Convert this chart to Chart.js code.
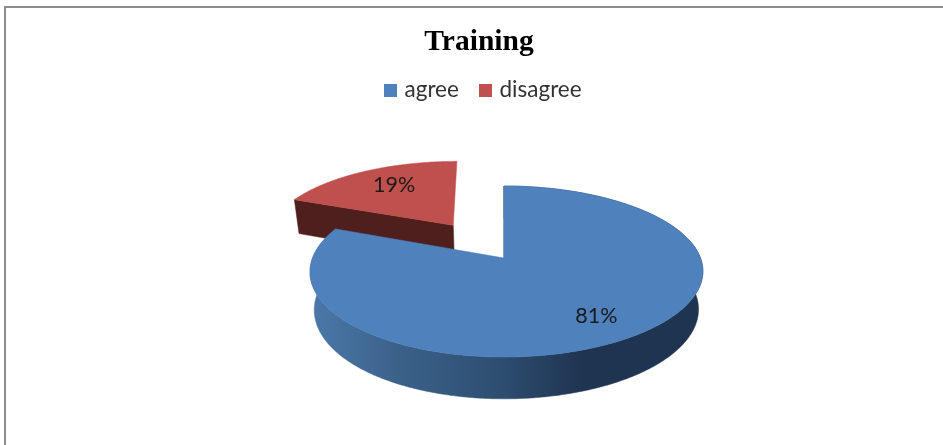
<!DOCTYPE html>
<html>
<head>
<meta charset="utf-8">
<title>Training</title>
<script src="https://cdn.jsdelivr.net/npm/chart.js@4/dist/chart.umd.min.js"></script>
<style>
  html, body { margin: 0; padding: 0; background: #fff; overflow: hidden; }
  #frame { position: absolute; left: 4px; top: 6px; right: 0; bottom: 0; border-top: 2px solid #8c8c8c; border-left: 2px solid #8c8c8c; }
  #chart { position: absolute; left: 0; top: 0; }
</style>
</head>
<body>
<div id="frame"></div>
<canvas id="chart" width="943" height="445"></canvas>
<script>
var categories = ['agree', 'disagree'];
var values = [81, 19];
var chartTitle = 'Training';

var faceColors = ['#4f81bd', '#c0504d'];
var edgeColors = ['#1f3451', '#4f1f1d'];

// the pie is tilted: unit circle -> screen, fitted on the picture
var tilt = { ax: 504, ay: 258, A: 194, B: 83.4, k: 0.158 };
var labelNudge = [[3, 2], [7, 1]];

function topPoint(r) {
  var w = 1 - tilt.k * r.v;
  return { x: tilt.ax + tilt.A * r.u / w + r.dx, y: tilt.ay + tilt.B * r.v / w };
}

function bottomPoint(r) {
  var p = topPoint(r);
  return { x: tilt.ax + (p.x - tilt.ax) * 0.978, y: p.y + 37.4 + 4.4 * r.v };
}

function tracePath(ctx, pts) {
  ctx.beginPath();
  pts.forEach(function (p, i) {
    if (i === 0) ctx.moveTo(p.x, p.y); else ctx.lineTo(p.x, p.y);
  });
  ctx.closePath();
}

function fillPath(ctx, pts, color) {
  tracePath(ctx, pts);
  ctx.fillStyle = color;
  ctx.strokeStyle = color;
  ctx.lineWidth = 0.5;
  ctx.fill();
  ctx.stroke();
}

var pie3d = {
  id: 'pie3d',
  beforeDatasetsDraw: function (chart) {
    var ctx = chart.ctx;
    var arcs = chart.getDatasetMeta(0).data.map(function (arc, i) {
      var mid = (arc.startAngle + arc.endAngle) / 2;
      var off = arc.options.offset;
      return { i: i, arc: arc, mid: mid, off: off, cu: Math.cos(mid) * off, cv: Math.sin(mid) * off };
    });
    // far slices first
    arcs.sort(function (a, b) { return a.cv - b.cv; });

    var wallGrad = ctx.createLinearGradient(314, 0, 698, 0);
    wallGrad.addColorStop(0, '#4a78a8');
    wallGrad.addColorStop(0.22, '#3b6189');
    wallGrad.addColorStop(0.48, '#2e4e71');
    wallGrad.addColorStop(0.7, '#1f3451');
    wallGrad.addColorStop(1, '#1f3451');

    arcs.forEach(function (s) {
      var rim = [];
      var n = Math.ceil((s.arc.endAngle - s.arc.startAngle) / (Math.PI / 360));
      for (var j = 0; j <= n; j++) {
        var a = s.arc.startAngle + (s.arc.endAngle - s.arc.startAngle) * j / n;
        // small correction, the original's perspective is not a clean one
        var dx = s.off ? 1 + 3 * Math.sin(a) : 2.5 * Math.cos(a) * Math.cos(a);
        rim.push({ u: s.cu + Math.cos(a), v: s.cv + Math.sin(a), dx: dx });
      }
      var apex = { u: s.cu, v: s.cv, dx: s.off ? 1 : 0 };
      var first = rim[0];

      // radial side facing the viewer
      fillPath(ctx, [topPoint(apex), topPoint(first), bottomPoint(first), bottomPoint(apex)], edgeColors[s.i]);

      // outer wall, the exploded slice only shows its back so it has none
      if (!s.off) {
        var wall = rim.map(topPoint);
        rim.slice().reverse().forEach(function (r) { wall.push(bottomPoint(r)); });
        fillPath(ctx, wall, wallGrad);
      }

      // top face
      fillPath(ctx, [topPoint(apex)].concat(rim.map(topPoint)), faceColors[s.i]);
    });

    // value labels
    ctx.font = '21.5px Lato';
    ctx.fillStyle = '#1a1a1a';
    ctx.textAlign = 'center';
    ctx.textBaseline = 'middle';
    arcs.forEach(function (s) {
      var p = topPoint({ u: s.cu + Math.cos(s.mid) * 0.74, v: s.cv + Math.sin(s.mid) * 0.74, dx: 0 });
      ctx.fillText(values[s.i] + '%', p.x + labelNudge[s.i][0], p.y + labelNudge[s.i][1]);
    });

    // legend
    var legendX = [384, 479];
    ctx.font = '22.5px Lato';
    ctx.textAlign = 'left';
    categories.forEach(function (name, i) {
      ctx.fillStyle = faceColors[i];
      ctx.fillRect(legendX[i], 84, 13, 13);
      ctx.fillStyle = '#333333';
      ctx.fillText(name, legendX[i] + 20.5, 90);
    });
    return false;
  }
};

new Chart(document.getElementById('chart'), {
  type: 'pie',
  data: {
    labels: categories,
    datasets: [{
      data: values,
      backgroundColor: faceColors,
      borderWidth: 0,
      offset: [0, 0.506]
    }]
  },
  options: {
    responsive: false,
    animation: false,
    layout: { padding: { left: 15 } },
    plugins: {
      legend: { display: false },
      tooltip: { enabled: false },
      title: {
        display: true,
        text: chartTitle,
        color: '#000000',
        font: { family: 'Liberation Serif', size: 29.5, weight: 'bold' },
        padding: { top: 25, bottom: 10 }
      }
    }
  },
  plugins: [pie3d]
});
</script>
</body>
</html>
